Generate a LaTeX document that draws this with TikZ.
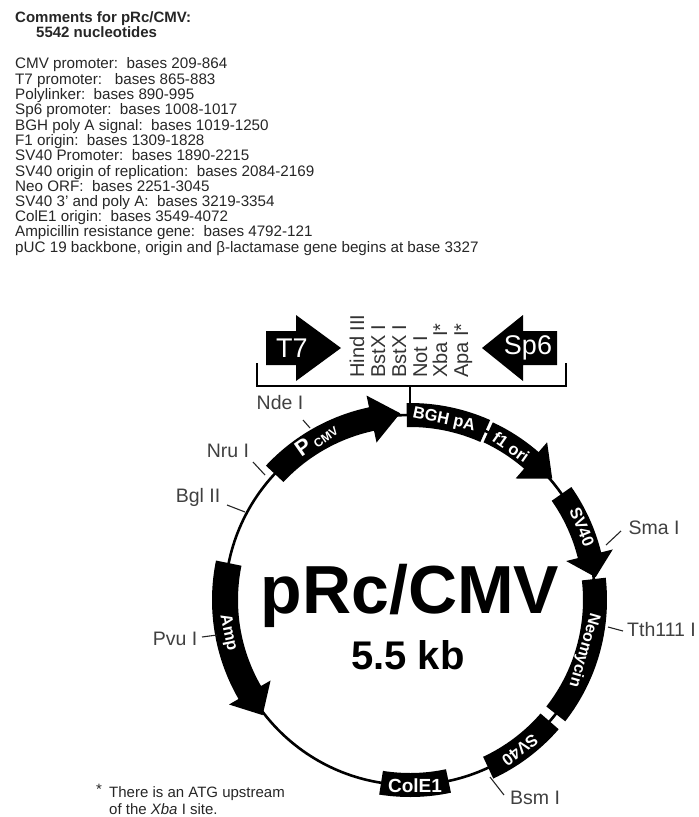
\documentclass[tikz,border=0pt]{standalone}
\usepackage{fontspec}
\setmainfont{Liberation Sans}
\newcommand{\ringband}[3]{\fill ({#1}:{185+#3}) arc[start angle=#1, end angle=#2, radius=185+#3] -- ({#2}:{185-#3}) arc[start angle=#2, end angle=#1, radius=185-#3] -- cycle;}
\newcommand{\ringarrow}[5]{\fill ({#1}:{185+#4}) arc[start angle=#1, end angle=#2, radius=185+#4] -- ({#2}:{185+#5}) -- ({#3}:187) -- ({#2}:{185-#5}) -- ({#2}:{185-#4}) arc[start angle=#2, end angle=#1, radius=185-#4] -- cycle;}
\newcommand{\fs}[1]{\fontsize{#1}{#1}\selectfont}
\begin{document}
\begin{tikzpicture}[
	x=1pt, y=-1pt,
	comment/.style={anchor=base west, inner sep=0pt, text=black!85, font=\fs{15.2}},
	commenthead/.style={anchor=base west, inner sep=0pt, text=black!85, font=\fs{15}\bfseries},
	site/.style={inner sep=0pt, text=black!75, font=\fs{19.5}},
	mcs/.style={anchor=base west, rotate=90, inner sep=0pt, text=black!80, font=\fs{20}},
	band/.style={inner sep=0pt, text=white, font=\fs{16.5}\bfseries},
	promoter/.style={inner sep=0pt, text=white, font=\fs{27}},
	tick/.style={line width=1.1pt, black!85},
	ring/.style={line width=2.6pt}
	]
	\useasboundingbox (0,0) rectangle (699,817);
	
	% Comments (top left)
	\node[commenthead] (title) at (15,22) {Comments for pRc/CMV:};
	\node[commenthead] (size) at (36,37) {5542 nucleotides};
	\node[comment] (c1) at (15,68) {CMV promoter:\ \ bases 209-864};
	\node[comment] (c2) at (15,84) {T7 promoter:\ \ \ bases 865-883};
	\node[comment] (c3) at (15,99) {Polylinker:\ \ bases 890-995};
	\node[comment] (c4) at (15,114) {Sp6 promoter:\ \ bases 1008-1017};
	\node[comment] (c5) at (15,130) {BGH poly A signal:\ \ bases 1019-1250};
	\node[comment] (c6) at (15,145) {F1 origin:\ \ bases 1309-1828};
	\node[comment] (c7) at (15,160) {SV40 Promoter:\ \ bases 1890-2215};
	\node[comment] (c8) at (15,176) {SV40 origin of replication:\ \ bases 2084-2169};
	\node[comment] (c9) at (15,191) {Neo ORF:\ \ bases 2251-3045};
	\node[comment] (c10) at (15,206) {SV40 3' and poly A:\ \ bases 3219-3354};
	\node[comment] (c11) at (15,221) {ColE1 origin:\ \ bases 3549-4072};
	\node[comment] (c12) at (15,236) {Ampicillin resistance gene:\ \ bases 4792-121};
	\node[comment] (c13) at (15,252) {pUC 19 backbone, origin and β-lactamase gene begins at base 3327};
	
	% Promoter arrows
	\fill (266,331) -- (296,331) -- (296,315) -- (341,348) -- (296,381) -- (296,365) -- (266,365) -- cycle;
	\fill (557,331) -- (523,331) -- (523,315) -- (482,348) -- (523,381) -- (523,365) -- (557,365) -- cycle;
	\node[promoter] (t7) at (292,348) {T7};
	\node[promoter] (sp6) at (528,348) {Sp6};
	
	% Polylinker sites
	\node[mcs] (hind) at (364,378) {Hind III};
	\node[mcs] (bstx1) at (385,378) {BstX I};
	\node[mcs] (bstx2) at (406,378) {BstX I};
	\node[mcs] (noti) at (427,378) {Not I};
	\node[mcs] (xba) at (447,378) {Xba I*};
	\node[mcs] (apa) at (468,378) {Apa I*};
	
	% Bracket and its stem
	\coordinate (brleft) at (257,363);
	\coordinate (brright) at (566,363);
	\coordinate (stemtop) at (410,386);
	\coordinate (stembot) at (410,408);
	\draw[line width=1.6pt] (brleft) |- (stemtop) -| (brright);
	\draw[line width=1.6pt] (stemtop) -- (stembot);
	
	% Plasmid ring with its bands
	\begin{scope}[shift={(410,600)}, y=1pt]
		\draw[ring] (0,0) circle[radius=185];
		\ringarrow{137}{102}{93}{12}{24}
		\ringband{91}{66}{12}
		\ringarrow{65}{49}{40.5}{11}{24}
		\ringarrow{35}{14}{7}{12}{24}
		\ringband{6.5}{-38}{12}
		\ringband{-41}{-65}{12}
		\ringband{-78}{-99}{12}
		\ringarrow{168.5}{210}{218}{13}{24}
	\end{scope}
	
	% Band labels
	\node[band, font=\fs{22}\bfseries, rotate=35] (pp) at (303,447) {P};
	\node[band, font=\fs{12}\bfseries, rotate=35] (pcmv) at (326,437) {CMV};
	\node[band, rotate=-12] (bgh) at (444,420) {BGH pA};
	\node[band, rotate=-35] (f1) at (511,447) {f1 ori};
	\node[band, rotate=-68] (sv40a) at (582,527) {SV40};
	\node[band, font=\fs{16}\bfseries, rotate=-106] (neo) at (584,650) {Neomycin};
	\node[band, rotate=-143] (sv40b) at (520,750) {SV40};
	\node[band, font=\fs{19}\bfseries] (cole) at (415,786) {ColE1};
	\node[band, rotate=-78] (amp) at (228,633) {Amp};
	
	% Restriction sites round the ring
	\node[site] (nde) at (280,403) {Nde I};
	\node[site] (nru) at (228,451) {Nru I};
	\node[site] (bgl) at (198,497) {Bgl II};
	\node[site] (pvu) at (175,639) {Pvu I};
	\node[site] (sma) at (654,528) {Sma I};
	\node[site, anchor=west] (tth) at (627,630) {Tth111 I};
	\node[site, anchor=west] (bsm) at (510,798) {Bsm I};
	\coordinate (ndeA) at (303,420);
	\coordinate (ndeB) at (310,428);
	\coordinate (nruA) at (253,462);
	\coordinate (nruB) at (265,475);
	\coordinate (bglA) at (227,505);
	\coordinate (bglB) at (245,512);
	\coordinate (pvuA) at (202,637);
	\coordinate (pvuB) at (217,635);
	\coordinate (smaA) at (621,531);
	\coordinate (smaB) at (606,545);
	\coordinate (tthA) at (623,631);
	\coordinate (tthB) at (608,627);
	\coordinate (bsmA) at (504,795);
	\coordinate (bsmB) at (490,777);
	\draw[tick] (ndeA) -- (ndeB);
	\draw[tick] (nruA) -- (nruB);
	\draw[tick] (bglA) -- (bglB);
	\draw[tick] (pvuA) -- (pvuB);
	\draw[tick] (smaA) -- (smaB);
	\draw[tick] (tthA) -- (tthB);
	\draw[tick] (bsmA) -- (bsmB);
	
	% Name in the middle
	\node[inner sep=0pt, font=\fs{68}\bfseries] (name) at (410,596) {pRc/CMV};
	\node[inner sep=0pt, font=\fs{40}\bfseries] (kb) at (408,655) {5.5 kb};
	
	% Footnote
	\node[comment, font=\fs{15}] (star) at (96,794) {*};
	\node[comment, font=\fs{15}] (note1) at (109,797) {There is an ATG upstream};
	\node[comment, font=\fs{15}] (note2) at (109,814) {of the \textit{Xba} I site.};
\end{tikzpicture}
\end{document}
